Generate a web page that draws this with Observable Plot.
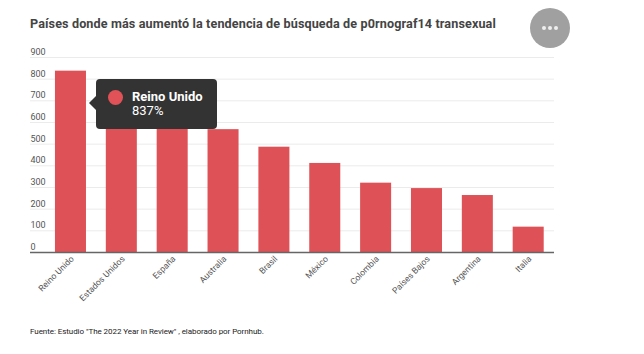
<!DOCTYPE html>
<html>
<head>
<meta charset="utf-8">
<script src="https://cdn.jsdelivr.net/npm/d3@7"></script>
<script src="https://cdn.jsdelivr.net/npm/@observablehq/plot@0.6"></script>
<style>
html,body{margin:0;padding:0;background:#fff;width:644px;height:354px;overflow:hidden;font-family:Roboto,sans-serif}
#wrap{position:relative;width:644px;height:354px}
#title{position:absolute;left:30px;top:15px;font:700 12.6px/18px Roboto,sans-serif;color:#444;white-space:nowrap;letter-spacing:.12px}
#chart{position:absolute;left:0;top:45px}
#caption{position:absolute;left:30px;top:326px;font:400 8px/12px Roboto,sans-serif;letter-spacing:-.06px;color:#222;white-space:nowrap}
#more{position:absolute;left:530px;top:8px;width:40px;height:40px;border-radius:50%;background:#a0a0a0;color:#fff;display:flex;align-items:center;justify-content:center;gap:2px}
#more i{width:4px;height:4px;border-radius:50%;background:#eee;display:block}
#tip{position:absolute;left:96px;top:79px;width:121px;height:50px;border-radius:4px;background:#333;color:#fff}
#tip:before{content:"";position:absolute;left:-7px;top:17px;border-style:solid;border-width:7px 7px 7px 0;border-color:transparent #333 transparent transparent}
#tip b{position:absolute;left:36px;top:10px;font:700 13px/16px Roboto,sans-serif;white-space:nowrap}
#tip span.v{position:absolute;left:36px;top:24px;font:400 13px/16px Roboto,sans-serif}
#tip span.d{position:absolute;left:12px;top:11px;width:15px;height:15px;border-radius:50%;background:#e05257}
</style>
</head>
<body>
<div id="wrap">
<div id="title">Países donde más aumentó la tendencia de búsqueda de p0rnograf14 transexual</div>
<div id="chart"></div>
<div id="caption">Fuente: Estudio "The 2022 Year in Review" , elaborado por Pornhub.</div>
<div id="more"><i></i><i></i><i></i></div>
<div id="tip"><span class="d"></span><b>Reino Unido</b><span class="v">837%</span></div>
</div>
<script>
const countries = ["Reino Unido","Estados Unidos","España","Australia","Brasil","México","Colombia","Países Bajos","Argentina","Italia"];
const values = [837,650,600,567,486,411,320,295,263,117];
const yTicks = [0,100,200,300,400,500,600,700,800,900];
const rows = countries.map((c,i)=>({c,v:values[i]}));

const plot = Plot.plot({
  width:644, height:280,
  marginLeft:30, marginRight:90, marginTop:12, marginBottom:73,
  style:{fontFamily:"Roboto,sans-serif",background:"transparent"},
  x:{domain:countries,paddingInner:0.39,paddingOuter:0.3465,align:0.708,round:false,label:null},
  y:{domain:[0,900],label:null,axis:null},
  marks:[
    Plot.ruleY(yTicks.slice(1),{stroke:"#ebebeb",strokeWidth:1}),
    Plot.barY(rows,{x:"c",y:"v",fill:"#de5257"}),
    Plot.ruleY([0],{stroke:"#666",strokeWidth:1.5}),
    Plot.text(yTicks,{y:d=>d,text:d=>String(d),frameAnchor:"left",textAnchor:"start",dy:-5.5,fontSize:9,fill:"#555"}),
    Plot.axisX({tickSize:0,tickRotate:-45,tickPadding:5,dx:1.5,fontSize:8.6,color:"#555",label:null})
  ]
});
document.getElementById("chart").appendChild(plot);
</script>
</body>
</html>
